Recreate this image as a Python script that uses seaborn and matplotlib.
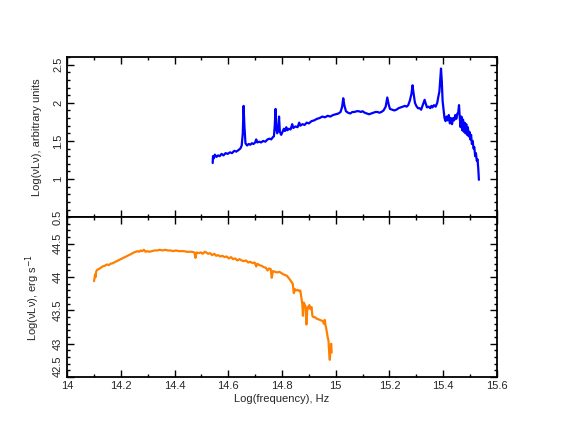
import pandas as pd
import matplotlib
matplotlib.use("Agg")
import matplotlib.pyplot as plt
from matplotlib.ticker import MultipleLocator, FuncFormatter
import seaborn as sns

# top panel: spectrum, arbitrary units
freq_top = [14.542, 14.543, 14.546, 14.550, 14.556, 14.562, 14.568, 14.575, 14.582, 14.590,
            14.598, 14.606, 14.614, 14.622, 14.630, 14.638, 14.645, 14.650, 14.654, 14.657,
            14.660, 14.664, 14.670, 14.676, 14.682, 14.688, 14.694, 14.700, 14.704, 14.708,
            14.715, 14.722, 14.730, 14.738, 14.746, 14.754, 14.760, 14.766, 14.770, 14.773,
            14.776, 14.779, 14.782, 14.786, 14.789, 14.792, 14.797, 14.802, 14.807, 14.811,
            14.816, 14.820, 14.826, 14.832, 14.838, 14.842, 14.850, 14.858, 14.864, 14.868,
            14.876, 14.884, 14.892, 14.900, 14.910, 14.920, 14.930, 14.940, 14.950, 14.960,
            14.970, 14.980, 14.990, 15.000, 15.010, 15.018, 15.024, 15.028, 15.032, 15.038,
            15.046, 15.054, 15.062, 15.070, 15.078, 15.086, 15.094, 15.100, 15.108, 15.116,
            15.124, 15.132, 15.140, 15.148, 15.156, 15.162, 15.170, 15.178, 15.186, 15.192,
            15.197, 15.202, 15.210, 15.218, 15.226, 15.234, 15.242, 15.250, 15.258, 15.264,
            15.270, 15.276, 15.282, 15.286, 15.290, 15.295, 15.300, 15.306, 15.312, 15.318,
            15.322, 15.327, 15.331, 15.335, 15.340, 15.346, 15.352, 15.356, 15.360, 15.366,
            15.372, 15.378, 15.382, 15.386, 15.389, 15.392, 15.395, 15.398, 15.401, 15.405,
            15.409, 15.413, 15.417, 15.421, 15.425, 15.429, 15.433, 15.437, 15.441, 15.445,
            15.449, 15.453, 15.456, 15.459, 15.462, 15.465, 15.468, 15.471, 15.474, 15.477,
            15.480, 15.483, 15.486, 15.489, 15.492, 15.495, 15.498, 15.501, 15.504, 15.507,
            15.510, 15.513, 15.516, 15.519, 15.522, 15.525, 15.528, 15.531, 15.533]
lum_top = [1.21, 1.30, 1.27, 1.32, 1.29, 1.31, 1.30, 1.33, 1.31, 1.34,
           1.33, 1.35, 1.34, 1.37, 1.36, 1.38, 1.40, 1.44, 1.60, 1.96,
           1.70, 1.47, 1.44, 1.46, 1.45, 1.47, 1.46, 1.48, 1.52, 1.48,
           1.49, 1.48, 1.50, 1.49, 1.52, 1.53, 1.52, 1.55, 1.56, 1.70,
           1.92, 1.66, 1.60, 1.65, 1.82, 1.62, 1.58, 1.62, 1.66, 1.63,
           1.68, 1.64, 1.66, 1.65, 1.72, 1.67, 1.69, 1.68, 1.74, 1.70,
           1.72, 1.71, 1.74, 1.73, 1.76, 1.77, 1.79, 1.80, 1.82, 1.81,
           1.83, 1.82, 1.84, 1.85, 1.86, 1.88, 1.95, 2.06, 1.97, 1.89,
           1.87, 1.86, 1.88, 1.88, 1.89, 1.89, 1.88, 1.89, 1.87, 1.86,
           1.85, 1.86, 1.87, 1.88, 1.88, 1.87, 1.88, 1.90, 1.95, 2.07,
           1.98, 1.92, 1.91, 1.90, 1.91, 1.93, 1.94, 1.95, 1.96, 1.95,
           1.97, 2.03, 2.12, 2.23, 2.12, 2.00, 1.96, 1.93, 1.93, 1.91,
           1.95, 2.00, 2.04, 1.99, 1.94, 1.95, 1.93, 1.96, 1.94, 1.97,
           1.95, 2.00, 2.08, 2.15, 2.30, 2.45, 2.28, 2.02, 1.92, 1.80,
           1.76, 1.82, 1.77, 1.84, 1.73, 1.80, 1.72, 1.80, 1.77, 1.84,
           1.79, 1.86, 1.87, 1.97, 1.80, 1.68, 1.82, 1.64, 1.78, 1.62,
           1.74, 1.60, 1.72, 1.58, 1.68, 1.56, 1.62, 1.52, 1.58, 1.46,
           1.50, 1.40, 1.42, 1.30, 1.34, 1.24, 1.26, 1.12, 0.99]

# bottom panel: spectrum, erg/s
freq_bot = [14.100, 14.102, 14.104, 14.106, 14.108, 14.112, 14.118, 14.125, 14.132, 14.140,
            14.148, 14.155, 14.162, 14.170, 14.180, 14.190, 14.200, 14.210, 14.220, 14.230,
            14.240, 14.248, 14.256, 14.262, 14.268, 14.274, 14.280, 14.286, 14.292, 14.298,
            14.306, 14.315, 14.325, 14.335, 14.345, 14.355, 14.365, 14.375, 14.385, 14.395,
            14.405, 14.415, 14.425, 14.435, 14.445, 14.455, 14.465, 14.474, 14.478, 14.482,
            14.490, 14.498, 14.505, 14.512, 14.518, 14.525, 14.532, 14.540, 14.548, 14.555,
            14.562, 14.570, 14.578, 14.586, 14.594, 14.602, 14.610, 14.618, 14.626, 14.634,
            14.642, 14.650, 14.658, 14.666, 14.674, 14.682, 14.690, 14.698, 14.704, 14.708,
            14.716, 14.724, 14.732, 14.740, 14.746, 14.752, 14.758, 14.762, 14.766, 14.774,
            14.782, 14.790, 14.798, 14.806, 14.812, 14.818, 14.824, 14.830, 14.835, 14.840,
            14.844, 14.848, 14.852, 14.858, 14.864, 14.868, 14.872, 14.876, 14.878, 14.881,
            14.885, 14.888, 14.891, 14.894, 14.898, 14.902, 14.906, 14.910, 14.913, 14.917,
            14.922, 14.928, 14.934, 14.940, 14.946, 14.952, 14.956, 14.959, 14.962, 14.966,
            14.970, 14.973, 14.976, 14.978, 14.980, 14.983, 14.985]
lum_bot = [43.94, 43.98, 44.04, 44.00, 44.08, 44.11, 44.12, 44.14, 44.16, 44.17,
           44.19, 44.18, 44.20, 44.21, 44.23, 44.25, 44.27, 44.29, 44.31, 44.33,
           44.35, 44.37, 44.38, 44.39, 44.38, 44.40, 44.39, 44.41, 44.38, 44.39,
           44.38, 44.39, 44.40, 44.40, 44.41, 44.40, 44.41, 44.40, 44.40, 44.39,
           44.40, 44.39, 44.39, 44.39, 44.38, 44.38, 44.38, 44.37, 44.29, 44.37,
           44.36, 44.37, 44.35, 44.38, 44.37, 44.35, 44.36, 44.33, 44.35, 44.32,
           44.33, 44.31, 44.32, 44.30, 44.31, 44.28, 44.30, 44.27, 44.28, 44.25,
           44.27, 44.25, 44.24, 44.25, 44.22, 44.23, 44.21, 44.22, 44.16, 44.20,
           44.18, 44.17, 44.15, 44.14, 44.10, 44.13, 44.12, 43.99, 44.09, 44.08,
           44.07, 44.08, 44.06, 44.04, 44.03, 44.02, 43.99, 43.96, 43.93, 43.90,
           43.76, 43.82, 43.80, 43.81, 43.79, 43.80, 43.70, 43.58, 43.42, 43.62,
           43.58, 43.56, 43.29, 43.50, 43.56, 43.58, 43.52, 43.55, 43.42, 43.40,
           43.40, 43.38, 43.37, 43.36, 43.35, 43.34, 43.30, 43.36, 43.28, 43.20,
           43.10, 43.05, 42.85, 42.76, 42.90, 43.00, 42.87]

top_df = pd.DataFrame({"freq": freq_top, "lum": lum_top})
bot_df = pd.DataFrame({"freq": freq_bot, "lum": lum_bot})

sns.set_style("white")
plt.rcParams['font.family'] = ['Liberation Sans', 'DejaVu Sans']
plt.rcParams['font.size'] = 8

fig, (ax1, ax2) = plt.subplots(2, 1, sharex=True, figsize=(5.64, 4.36), dpi=100)
fig.subplots_adjust(left=0.119, right=0.881, top=0.869, bottom=0.135, hspace=0)

sns.lineplot(data=top_df, x="freq", y="lum", ax=ax1, color="#0000ff",
             lw=1.6, sort=False, estimator=None)
sns.lineplot(data=bot_df, x="freq", y="lum", ax=ax2, color="#ff8000",
             lw=1.6, sort=False, estimator=None)

fmt = FuncFormatter(lambda v, p: "%g" % round(v, 2))

ax1.set_ylim(0.5, 2.6)
ax2.set_ylim(42.5, 44.9)
ax2.set_xlim(14, 15.6)

for ax in (ax1, ax2):
    ax.xaxis.set_major_locator(MultipleLocator(0.2))
    ax.xaxis.set_minor_locator(MultipleLocator(0.1))
    ax.yaxis.set_major_locator(MultipleLocator(0.5))
    ax.yaxis.set_minor_locator(MultipleLocator(0.1))
    ax.xaxis.set_major_formatter(fmt)
    ax.yaxis.set_major_formatter(fmt)
    ax.tick_params(which="both", direction="in", top=True, right=True,
                   bottom=True, left=True, width=1, color="black",
                   labelsize=8, pad=3)
    ax.tick_params(which="major", length=5)
    ax.tick_params(which="minor", length=2.5)
    ax.tick_params(axis="y", labelrotation=90)
    for sp in ax.spines.values():
        sp.set_visible(True)
        sp.set_linewidth(1.3)
        sp.set_color("black")

ax1.tick_params(axis="x", labelbottom=False)

ax1.set_xlabel("")
ax1.set_ylabel("Log(νLν), arbitrary units", fontsize=8)
ax2.set_ylabel("Log(νLν), erg s$^{-1}$", fontsize=8)
ax2.set_xlabel("Log(frequency), Hz", fontsize=8, labelpad=2)
ax1.yaxis.set_label_coords(-0.058, 0.5)
ax2.yaxis.set_label_coords(-0.058, 0.5)

# center the rotated y labels; the lowest one of the bottom panel sits above its tick
fig.canvas.draw()
for ax in (ax1, ax2):
    for t in ax.yaxis.get_major_ticks():
        t.label1.set_va("center")
for t in ax2.yaxis.get_major_ticks():
    if abs(t.get_loc() - 42.5) < 1e-6:
        t.label1.set_va("bottom")

fig.savefig("out.png", dpi=100)
